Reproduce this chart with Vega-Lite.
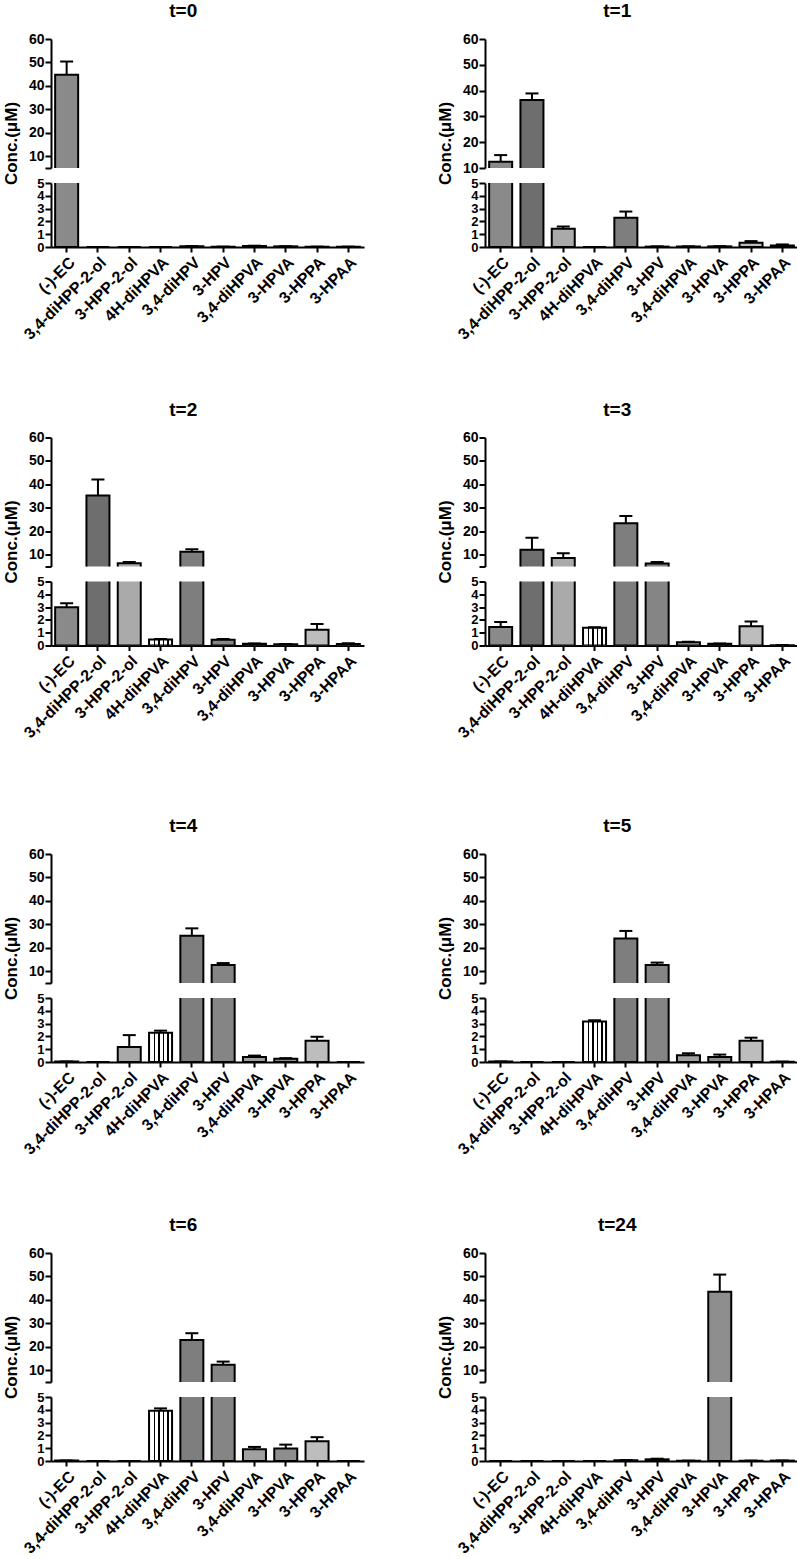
{
"$schema": "https://vega.github.io/schema/vega-lite/v6.json",
"padding": {"left": 2, "top": 2, "right": 0, "bottom": 0},
"background": "white",
"data": {"values": [
{"t":"t=0","c":"(-)-EC","v":44.8,"hi":50.4},
{"t":"t=0","c":"3,4-diHPP-2-ol","v":0,"hi":0},
{"t":"t=0","c":"3-HPP-2-ol","v":0,"hi":0},
{"t":"t=0","c":"4H-diHPVA","v":0,"hi":0},
{"t":"t=0","c":"3,4-diHPV","v":0.05,"hi":0.07},
{"t":"t=0","c":"3-HPV","v":0.02,"hi":0.03},
{"t":"t=0","c":"3,4-diHPVA","v":0.08,"hi":0.1},
{"t":"t=0","c":"3-HPVA","v":0.05,"hi":0.06},
{"t":"t=0","c":"3-HPPA","v":0.02,"hi":0.03},
{"t":"t=0","c":"3-HPAA","v":0.02,"hi":0.03},
{"t":"t=1","c":"(-)-EC","v":12.4,"hi":15.0},
{"t":"t=1","c":"3,4-diHPP-2-ol","v":36.4,"hi":38.9},
{"t":"t=1","c":"3-HPP-2-ol","v":1.43,"hi":1.6},
{"t":"t=1","c":"4H-diHPVA","v":0,"hi":0},
{"t":"t=1","c":"3,4-diHPV","v":2.28,"hi":2.77},
{"t":"t=1","c":"3-HPV","v":0.03,"hi":0.05},
{"t":"t=1","c":"3,4-diHPVA","v":0.03,"hi":0.05},
{"t":"t=1","c":"3-HPVA","v":0.05,"hi":0.06},
{"t":"t=1","c":"3-HPPA","v":0.34,"hi":0.46},
{"t":"t=1","c":"3-HPAA","v":0.12,"hi":0.2},
{"t":"t=2","c":"(-)-EC","v":2.98,"hi":3.31},
{"t":"t=2","c":"3,4-diHPP-2-ol","v":35.3,"hi":42.1},
{"t":"t=2","c":"3-HPP-2-ol","v":6.4,"hi":6.9},
{"t":"t=2","c":"4H-diHPVA","v":0.47,"hi":0.5},
{"t":"t=2","c":"3,4-diHPV","v":11.3,"hi":12.4},
{"t":"t=2","c":"3-HPV","v":0.44,"hi":0.5},
{"t":"t=2","c":"3,4-diHPVA","v":0.13,"hi":0.15},
{"t":"t=2","c":"3-HPVA","v":0.1,"hi":0.12},
{"t":"t=2","c":"3-HPPA","v":1.24,"hi":1.68},
{"t":"t=2","c":"3-HPAA","v":0.12,"hi":0.18},
{"t":"t=3","c":"(-)-EC","v":1.44,"hi":1.83},
{"t":"t=3","c":"3,4-diHPP-2-ol","v":12.1,"hi":17.3},
{"t":"t=3","c":"3-HPP-2-ol","v":8.6,"hi":10.7},
{"t":"t=3","c":"4H-diHPVA","v":1.38,"hi":1.42},
{"t":"t=3","c":"3,4-diHPV","v":23.4,"hi":26.5},
{"t":"t=3","c":"3-HPV","v":6.3,"hi":6.9},
{"t":"t=3","c":"3,4-diHPVA","v":0.25,"hi":0.3},
{"t":"t=3","c":"3-HPVA","v":0.13,"hi":0.15},
{"t":"t=3","c":"3-HPPA","v":1.51,"hi":1.88},
{"t":"t=3","c":"3-HPAA","v":0.02,"hi":0.03},
{"t":"t=4","c":"(-)-EC","v":0.03,"hi":0.04},
{"t":"t=4","c":"3,4-diHPP-2-ol","v":0,"hi":0},
{"t":"t=4","c":"3-HPP-2-ol","v":1.18,"hi":2.1},
{"t":"t=4","c":"4H-diHPVA","v":2.29,"hi":2.45},
{"t":"t=4","c":"3,4-diHPV","v":25.1,"hi":28.3},
{"t":"t=4","c":"3-HPV","v":12.7,"hi":13.5},
{"t":"t=4","c":"3,4-diHPVA","v":0.39,"hi":0.5},
{"t":"t=4","c":"3-HPVA","v":0.26,"hi":0.3},
{"t":"t=4","c":"3-HPPA","v":1.66,"hi":1.97},
{"t":"t=4","c":"3-HPAA","v":0,"hi":0},
{"t":"t=5","c":"(-)-EC","v":0.03,"hi":0.04},
{"t":"t=5","c":"3,4-diHPP-2-ol","v":0,"hi":0},
{"t":"t=5","c":"3-HPP-2-ol","v":0,"hi":0},
{"t":"t=5","c":"4H-diHPVA","v":3.16,"hi":3.26},
{"t":"t=5","c":"3,4-diHPV","v":24.0,"hi":27.2},
{"t":"t=5","c":"3-HPV","v":12.7,"hi":13.7},
{"t":"t=5","c":"3,4-diHPVA","v":0.53,"hi":0.68},
{"t":"t=5","c":"3-HPVA","v":0.39,"hi":0.58},
{"t":"t=5","c":"3-HPPA","v":1.66,"hi":1.9},
{"t":"t=5","c":"3-HPAA","v":0.02,"hi":0.03},
{"t":"t=6","c":"(-)-EC","v":0.03,"hi":0.04},
{"t":"t=6","c":"3,4-diHPP-2-ol","v":0,"hi":0},
{"t":"t=6","c":"3-HPP-2-ol","v":0,"hi":0},
{"t":"t=6","c":"4H-diHPVA","v":3.93,"hi":4.11},
{"t":"t=6","c":"3,4-diHPV","v":22.9,"hi":25.8},
{"t":"t=6","c":"3-HPV","v":12.4,"hi":13.7},
{"t":"t=6","c":"3,4-diHPVA","v":0.92,"hi":1.1},
{"t":"t=6","c":"3-HPVA","v":0.97,"hi":1.28},
{"t":"t=6","c":"3-HPPA","v":1.54,"hi":1.86},
{"t":"t=6","c":"3-HPAA","v":0,"hi":0},
{"t":"t=24","c":"(-)-EC","v":0,"hi":0},
{"t":"t=24","c":"3,4-diHPP-2-ol","v":0,"hi":0},
{"t":"t=24","c":"3-HPP-2-ol","v":0,"hi":0},
{"t":"t=24","c":"4H-diHPVA","v":0,"hi":0},
{"t":"t=24","c":"3,4-diHPV","v":0.05,"hi":0.07},
{"t":"t=24","c":"3-HPV","v":0.13,"hi":0.18},
{"t":"t=24","c":"3,4-diHPVA","v":0.02,"hi":0.03},
{"t":"t=24","c":"3-HPVA","v":43.5,"hi":50.8},
{"t":"t=24","c":"3-HPPA","v":0.02,"hi":0.03},
{"t":"t=24","c":"3-HPAA","v":0.03,"hi":0.04}
]},
"config": {
  "font": "Liberation Sans",
  "view": {"stroke": null},
  "title": {"font": "Liberation Sans", "fontSize": 19, "fontWeight": "bold", "color": "black", "anchor": "middle", "offset": 11},
  "axis": {"domainColor": "black", "domainWidth": 2, "tickColor": "black", "tickWidth": 2, "tickSize": 6, "labelFont": "Liberation Sans", "labelFontWeight": "bold", "labelFontSize": 14, "labelColor": "black", "labelPadding": 1, "labelOverlap": false, "labelFlush": false, "titleFont": "Liberation Sans", "titleFontWeight": "bold", "titleFontSize": 17, "titleColor": "black", "titlePadding": 8, "grid": false},
  "axisX": {"labelAngle": -45, "tickSize": 5, "labelPadding": 2, "labelFontSize": 16}
},
"spacing": 76,
"vconcat": [
{"spacing": 57.5, "vconcat": [
{"spacing": 72, "hconcat": [
{"title": "t=0", "bounds": "flush", "spacing": 15, "vconcat": [
 {"width": 313, "height": 129, "transform": [{"filter": "datum.t === 't=0'"}],
  "encoding": {
   "x": {"field": "c", "type": "nominal", "scale": {"domain": ["(-)-EC","3,4-diHPP-2-ol","3-HPP-2-ol","4H-diHPVA","3,4-diHPV","3-HPV","3,4-diHPVA","3-HPVA","3-HPPA","3-HPAA"], "paddingInner": 0.265, "paddingOuter": 0.1325}, "axis": null},
   "y": {"field": "v", "type": "quantitative", "scale": {"domain": [5, 60], "nice": false, "zero": false}, "axis": {"title": "Conc.(μM)", "titleY": 104, "values": [5,10,20,30,40,50,60], "labelExpr": "datum.value == 5 ? '' : datum.label"}}
  },
  "layer": [
   {"mark": {"type": "bar", "clip": true, "stroke": "black", "strokeWidth": 2}, "encoding": {"y2": {"datum": 0}, "fill": {"field": "c", "type": "nominal", "legend": null, "scale": {"domain": ["(-)-EC","3,4-diHPP-2-ol","3-HPP-2-ol","4H-diHPVA","3,4-diHPV","3-HPV","3,4-diHPVA","3-HPVA","3-HPPA","3-HPAA"], "range": ["#8a8a8a","#6e6e6e","#aaaaaa","#ffffff","#7e7e7e","#858585","#a0a0a0","#8e8e8e","#bdbdbd","#bbbbbb"]}, "condition": {"test": "datum.c === '4H-diHPVA'", "value": {"gradient": "linear", "x1": 0, "y1": 0, "x2": 1, "y2": 0, "stops": [{"offset": 0, "color": "white"}, {"offset": 0.2, "color": "white"}, {"offset": 0.2, "color": "black"}, {"offset": 0.26, "color": "black"}, {"offset": 0.26, "color": "white"}, {"offset": 0.4, "color": "white"}, {"offset": 0.4, "color": "black"}, {"offset": 0.46, "color": "black"}, {"offset": 0.46, "color": "white"}, {"offset": 0.6, "color": "white"}, {"offset": 0.6, "color": "black"}, {"offset": 0.66, "color": "black"}, {"offset": 0.66, "color": "white"}, {"offset": 0.8, "color": "white"}, {"offset": 0.8, "color": "black"}, {"offset": 0.86, "color": "black"}, {"offset": 0.86, "color": "white"}, {"offset": 1, "color": "white"}]}}}}},
   {"mark": {"type": "rule", "clip": true, "color": "black", "strokeWidth": 2}, "encoding": {"y2": {"field": "hi"}}},
   {"mark": {"type": "tick", "clip": true, "color": "black", "size": 13, "thickness": 2, "opacity": 1}, "encoding": {"y": {"field": "hi", "type": "quantitative", "scale": {"domain": [5, 60], "nice": false, "zero": false}, "axis": {"title": "Conc.(μM)", "titleY": 104, "values": [5,10,20,30,40,50,60], "labelExpr": "datum.value == 5 ? '' : datum.label"}}}}
  ]},
 {"width": 313, "height": 64, "transform": [{"filter": "datum.t === 't=0'"}],
  "encoding": {
   "x": {"field": "c", "type": "nominal", "scale": {"domain": ["(-)-EC","3,4-diHPP-2-ol","3-HPP-2-ol","4H-diHPVA","3,4-diHPV","3-HPV","3,4-diHPVA","3-HPVA","3-HPPA","3-HPAA"], "paddingInner": 0.265, "paddingOuter": 0.1325}, "axis": {"title": null}},
   "y": {"field": "v", "type": "quantitative", "scale": {"domain": [0, 5], "nice": false}, "axis": {"title": null, "values": [0,1,2,3,4,5], "labelFontSize": 13}}
  },
  "layer": [
   {"mark": {"type": "bar", "clip": true, "stroke": "black", "strokeWidth": 2}, "encoding": {"y2": {"datum": 0}, "fill": {"field": "c", "type": "nominal", "legend": null, "scale": {"domain": ["(-)-EC","3,4-diHPP-2-ol","3-HPP-2-ol","4H-diHPVA","3,4-diHPV","3-HPV","3,4-diHPVA","3-HPVA","3-HPPA","3-HPAA"], "range": ["#8a8a8a","#6e6e6e","#aaaaaa","#ffffff","#7e7e7e","#858585","#a0a0a0","#8e8e8e","#bdbdbd","#bbbbbb"]}, "condition": {"test": "datum.c === '4H-diHPVA'", "value": {"gradient": "linear", "x1": 0, "y1": 0, "x2": 1, "y2": 0, "stops": [{"offset": 0, "color": "white"}, {"offset": 0.2, "color": "white"}, {"offset": 0.2, "color": "black"}, {"offset": 0.26, "color": "black"}, {"offset": 0.26, "color": "white"}, {"offset": 0.4, "color": "white"}, {"offset": 0.4, "color": "black"}, {"offset": 0.46, "color": "black"}, {"offset": 0.46, "color": "white"}, {"offset": 0.6, "color": "white"}, {"offset": 0.6, "color": "black"}, {"offset": 0.66, "color": "black"}, {"offset": 0.66, "color": "white"}, {"offset": 0.8, "color": "white"}, {"offset": 0.8, "color": "black"}, {"offset": 0.86, "color": "black"}, {"offset": 0.86, "color": "white"}, {"offset": 1, "color": "white"}]}}}}},
   {"mark": {"type": "rule", "clip": true, "color": "black", "strokeWidth": 2}, "encoding": {"y2": {"field": "hi"}}},
   {"mark": {"type": "tick", "clip": true, "color": "black", "size": 13, "thickness": 2, "opacity": 1}, "encoding": {"y": {"field": "hi", "type": "quantitative", "scale": {"domain": [0, 5], "nice": false}, "axis": {"title": null, "values": [0,1,2,3,4,5], "labelFontSize": 13}}}}
  ]}
]},
{"title": "t=1", "bounds": "flush", "spacing": 15, "vconcat": [
 {"width": 313, "height": 129, "transform": [{"filter": "datum.t === 't=1'"}],
  "encoding": {
   "x": {"field": "c", "type": "nominal", "scale": {"domain": ["(-)-EC","3,4-diHPP-2-ol","3-HPP-2-ol","4H-diHPVA","3,4-diHPV","3-HPV","3,4-diHPVA","3-HPVA","3-HPPA","3-HPAA"], "paddingInner": 0.265, "paddingOuter": 0.1325}, "axis": null},
   "y": {"field": "v", "type": "quantitative", "scale": {"domain": [10, 60], "nice": false, "zero": false}, "axis": {"title": "Conc.(μM)", "titleY": 104, "values": [10,20,30,40,50,60]}}
  },
  "layer": [
   {"mark": {"type": "bar", "clip": true, "stroke": "black", "strokeWidth": 2}, "encoding": {"y2": {"datum": 0}, "fill": {"field": "c", "type": "nominal", "legend": null, "scale": {"domain": ["(-)-EC","3,4-diHPP-2-ol","3-HPP-2-ol","4H-diHPVA","3,4-diHPV","3-HPV","3,4-diHPVA","3-HPVA","3-HPPA","3-HPAA"], "range": ["#8a8a8a","#6e6e6e","#aaaaaa","#ffffff","#7e7e7e","#858585","#a0a0a0","#8e8e8e","#bdbdbd","#bbbbbb"]}, "condition": {"test": "datum.c === '4H-diHPVA'", "value": {"gradient": "linear", "x1": 0, "y1": 0, "x2": 1, "y2": 0, "stops": [{"offset": 0, "color": "white"}, {"offset": 0.2, "color": "white"}, {"offset": 0.2, "color": "black"}, {"offset": 0.26, "color": "black"}, {"offset": 0.26, "color": "white"}, {"offset": 0.4, "color": "white"}, {"offset": 0.4, "color": "black"}, {"offset": 0.46, "color": "black"}, {"offset": 0.46, "color": "white"}, {"offset": 0.6, "color": "white"}, {"offset": 0.6, "color": "black"}, {"offset": 0.66, "color": "black"}, {"offset": 0.66, "color": "white"}, {"offset": 0.8, "color": "white"}, {"offset": 0.8, "color": "black"}, {"offset": 0.86, "color": "black"}, {"offset": 0.86, "color": "white"}, {"offset": 1, "color": "white"}]}}}}},
   {"mark": {"type": "rule", "clip": true, "color": "black", "strokeWidth": 2}, "encoding": {"y2": {"field": "hi"}}},
   {"mark": {"type": "tick", "clip": true, "color": "black", "size": 13, "thickness": 2, "opacity": 1}, "encoding": {"y": {"field": "hi", "type": "quantitative", "scale": {"domain": [10, 60], "nice": false, "zero": false}, "axis": {"title": "Conc.(μM)", "titleY": 104, "values": [10,20,30,40,50,60]}}}}
  ]},
 {"width": 313, "height": 64, "transform": [{"filter": "datum.t === 't=1'"}],
  "encoding": {
   "x": {"field": "c", "type": "nominal", "scale": {"domain": ["(-)-EC","3,4-diHPP-2-ol","3-HPP-2-ol","4H-diHPVA","3,4-diHPV","3-HPV","3,4-diHPVA","3-HPVA","3-HPPA","3-HPAA"], "paddingInner": 0.265, "paddingOuter": 0.1325}, "axis": {"title": null}},
   "y": {"field": "v", "type": "quantitative", "scale": {"domain": [0, 5], "nice": false}, "axis": {"title": null, "values": [0,1,2,3,4,5], "labelFontSize": 13}}
  },
  "layer": [
   {"mark": {"type": "bar", "clip": true, "stroke": "black", "strokeWidth": 2}, "encoding": {"y2": {"datum": 0}, "fill": {"field": "c", "type": "nominal", "legend": null, "scale": {"domain": ["(-)-EC","3,4-diHPP-2-ol","3-HPP-2-ol","4H-diHPVA","3,4-diHPV","3-HPV","3,4-diHPVA","3-HPVA","3-HPPA","3-HPAA"], "range": ["#8a8a8a","#6e6e6e","#aaaaaa","#ffffff","#7e7e7e","#858585","#a0a0a0","#8e8e8e","#bdbdbd","#bbbbbb"]}, "condition": {"test": "datum.c === '4H-diHPVA'", "value": {"gradient": "linear", "x1": 0, "y1": 0, "x2": 1, "y2": 0, "stops": [{"offset": 0, "color": "white"}, {"offset": 0.2, "color": "white"}, {"offset": 0.2, "color": "black"}, {"offset": 0.26, "color": "black"}, {"offset": 0.26, "color": "white"}, {"offset": 0.4, "color": "white"}, {"offset": 0.4, "color": "black"}, {"offset": 0.46, "color": "black"}, {"offset": 0.46, "color": "white"}, {"offset": 0.6, "color": "white"}, {"offset": 0.6, "color": "black"}, {"offset": 0.66, "color": "black"}, {"offset": 0.66, "color": "white"}, {"offset": 0.8, "color": "white"}, {"offset": 0.8, "color": "black"}, {"offset": 0.86, "color": "black"}, {"offset": 0.86, "color": "white"}, {"offset": 1, "color": "white"}]}}}}},
   {"mark": {"type": "rule", "clip": true, "color": "black", "strokeWidth": 2}, "encoding": {"y2": {"field": "hi"}}},
   {"mark": {"type": "tick", "clip": true, "color": "black", "size": 13, "thickness": 2, "opacity": 1}, "encoding": {"y": {"field": "hi", "type": "quantitative", "scale": {"domain": [0, 5], "nice": false}, "axis": {"title": null, "values": [0,1,2,3,4,5], "labelFontSize": 13}}}}
  ]}
]}
]},
{"spacing": 72, "hconcat": [
{"title": "t=2", "bounds": "flush", "spacing": 15, "vconcat": [
 {"width": 313, "height": 129, "transform": [{"filter": "datum.t === 't=2'"}],
  "encoding": {
   "x": {"field": "c", "type": "nominal", "scale": {"domain": ["(-)-EC","3,4-diHPP-2-ol","3-HPP-2-ol","4H-diHPVA","3,4-diHPV","3-HPV","3,4-diHPVA","3-HPVA","3-HPPA","3-HPAA"], "paddingInner": 0.265, "paddingOuter": 0.1325}, "axis": null},
   "y": {"field": "v", "type": "quantitative", "scale": {"domain": [5, 60], "nice": false, "zero": false}, "axis": {"title": "Conc.(μM)", "titleY": 104, "values": [5,10,20,30,40,50,60], "labelExpr": "datum.value == 5 ? '' : datum.label"}}
  },
  "layer": [
   {"mark": {"type": "bar", "clip": true, "stroke": "black", "strokeWidth": 2}, "encoding": {"y2": {"datum": 0}, "fill": {"field": "c", "type": "nominal", "legend": null, "scale": {"domain": ["(-)-EC","3,4-diHPP-2-ol","3-HPP-2-ol","4H-diHPVA","3,4-diHPV","3-HPV","3,4-diHPVA","3-HPVA","3-HPPA","3-HPAA"], "range": ["#8a8a8a","#6e6e6e","#aaaaaa","#ffffff","#7e7e7e","#858585","#a0a0a0","#8e8e8e","#bdbdbd","#bbbbbb"]}, "condition": {"test": "datum.c === '4H-diHPVA'", "value": {"gradient": "linear", "x1": 0, "y1": 0, "x2": 1, "y2": 0, "stops": [{"offset": 0, "color": "white"}, {"offset": 0.2, "color": "white"}, {"offset": 0.2, "color": "black"}, {"offset": 0.26, "color": "black"}, {"offset": 0.26, "color": "white"}, {"offset": 0.4, "color": "white"}, {"offset": 0.4, "color": "black"}, {"offset": 0.46, "color": "black"}, {"offset": 0.46, "color": "white"}, {"offset": 0.6, "color": "white"}, {"offset": 0.6, "color": "black"}, {"offset": 0.66, "color": "black"}, {"offset": 0.66, "color": "white"}, {"offset": 0.8, "color": "white"}, {"offset": 0.8, "color": "black"}, {"offset": 0.86, "color": "black"}, {"offset": 0.86, "color": "white"}, {"offset": 1, "color": "white"}]}}}}},
   {"mark": {"type": "rule", "clip": true, "color": "black", "strokeWidth": 2}, "encoding": {"y2": {"field": "hi"}}},
   {"mark": {"type": "tick", "clip": true, "color": "black", "size": 13, "thickness": 2, "opacity": 1}, "encoding": {"y": {"field": "hi", "type": "quantitative", "scale": {"domain": [5, 60], "nice": false, "zero": false}, "axis": {"title": "Conc.(μM)", "titleY": 104, "values": [5,10,20,30,40,50,60], "labelExpr": "datum.value == 5 ? '' : datum.label"}}}}
  ]},
 {"width": 313, "height": 64, "transform": [{"filter": "datum.t === 't=2'"}],
  "encoding": {
   "x": {"field": "c", "type": "nominal", "scale": {"domain": ["(-)-EC","3,4-diHPP-2-ol","3-HPP-2-ol","4H-diHPVA","3,4-diHPV","3-HPV","3,4-diHPVA","3-HPVA","3-HPPA","3-HPAA"], "paddingInner": 0.265, "paddingOuter": 0.1325}, "axis": {"title": null}},
   "y": {"field": "v", "type": "quantitative", "scale": {"domain": [0, 5], "nice": false}, "axis": {"title": null, "values": [0,1,2,3,4,5], "labelFontSize": 13}}
  },
  "layer": [
   {"mark": {"type": "bar", "clip": true, "stroke": "black", "strokeWidth": 2}, "encoding": {"y2": {"datum": 0}, "fill": {"field": "c", "type": "nominal", "legend": null, "scale": {"domain": ["(-)-EC","3,4-diHPP-2-ol","3-HPP-2-ol","4H-diHPVA","3,4-diHPV","3-HPV","3,4-diHPVA","3-HPVA","3-HPPA","3-HPAA"], "range": ["#8a8a8a","#6e6e6e","#aaaaaa","#ffffff","#7e7e7e","#858585","#a0a0a0","#8e8e8e","#bdbdbd","#bbbbbb"]}, "condition": {"test": "datum.c === '4H-diHPVA'", "value": {"gradient": "linear", "x1": 0, "y1": 0, "x2": 1, "y2": 0, "stops": [{"offset": 0, "color": "white"}, {"offset": 0.2, "color": "white"}, {"offset": 0.2, "color": "black"}, {"offset": 0.26, "color": "black"}, {"offset": 0.26, "color": "white"}, {"offset": 0.4, "color": "white"}, {"offset": 0.4, "color": "black"}, {"offset": 0.46, "color": "black"}, {"offset": 0.46, "color": "white"}, {"offset": 0.6, "color": "white"}, {"offset": 0.6, "color": "black"}, {"offset": 0.66, "color": "black"}, {"offset": 0.66, "color": "white"}, {"offset": 0.8, "color": "white"}, {"offset": 0.8, "color": "black"}, {"offset": 0.86, "color": "black"}, {"offset": 0.86, "color": "white"}, {"offset": 1, "color": "white"}]}}}}},
   {"mark": {"type": "rule", "clip": true, "color": "black", "strokeWidth": 2}, "encoding": {"y2": {"field": "hi"}}},
   {"mark": {"type": "tick", "clip": true, "color": "black", "size": 13, "thickness": 2, "opacity": 1}, "encoding": {"y": {"field": "hi", "type": "quantitative", "scale": {"domain": [0, 5], "nice": false}, "axis": {"title": null, "values": [0,1,2,3,4,5], "labelFontSize": 13}}}}
  ]}
]},
{"title": "t=3", "bounds": "flush", "spacing": 15, "vconcat": [
 {"width": 313, "height": 129, "transform": [{"filter": "datum.t === 't=3'"}],
  "encoding": {
   "x": {"field": "c", "type": "nominal", "scale": {"domain": ["(-)-EC","3,4-diHPP-2-ol","3-HPP-2-ol","4H-diHPVA","3,4-diHPV","3-HPV","3,4-diHPVA","3-HPVA","3-HPPA","3-HPAA"], "paddingInner": 0.265, "paddingOuter": 0.1325}, "axis": null},
   "y": {"field": "v", "type": "quantitative", "scale": {"domain": [5, 60], "nice": false, "zero": false}, "axis": {"title": "Conc.(μM)", "titleY": 104, "values": [5,10,20,30,40,50,60], "labelExpr": "datum.value == 5 ? '' : datum.label"}}
  },
  "layer": [
   {"mark": {"type": "bar", "clip": true, "stroke": "black", "strokeWidth": 2}, "encoding": {"y2": {"datum": 0}, "fill": {"field": "c", "type": "nominal", "legend": null, "scale": {"domain": ["(-)-EC","3,4-diHPP-2-ol","3-HPP-2-ol","4H-diHPVA","3,4-diHPV","3-HPV","3,4-diHPVA","3-HPVA","3-HPPA","3-HPAA"], "range": ["#8a8a8a","#6e6e6e","#aaaaaa","#ffffff","#7e7e7e","#858585","#a0a0a0","#8e8e8e","#bdbdbd","#bbbbbb"]}, "condition": {"test": "datum.c === '4H-diHPVA'", "value": {"gradient": "linear", "x1": 0, "y1": 0, "x2": 1, "y2": 0, "stops": [{"offset": 0, "color": "white"}, {"offset": 0.2, "color": "white"}, {"offset": 0.2, "color": "black"}, {"offset": 0.26, "color": "black"}, {"offset": 0.26, "color": "white"}, {"offset": 0.4, "color": "white"}, {"offset": 0.4, "color": "black"}, {"offset": 0.46, "color": "black"}, {"offset": 0.46, "color": "white"}, {"offset": 0.6, "color": "white"}, {"offset": 0.6, "color": "black"}, {"offset": 0.66, "color": "black"}, {"offset": 0.66, "color": "white"}, {"offset": 0.8, "color": "white"}, {"offset": 0.8, "color": "black"}, {"offset": 0.86, "color": "black"}, {"offset": 0.86, "color": "white"}, {"offset": 1, "color": "white"}]}}}}},
   {"mark": {"type": "rule", "clip": true, "color": "black", "strokeWidth": 2}, "encoding": {"y2": {"field": "hi"}}},
   {"mark": {"type": "tick", "clip": true, "color": "black", "size": 13, "thickness": 2, "opacity": 1}, "encoding": {"y": {"field": "hi", "type": "quantitative", "scale": {"domain": [5, 60], "nice": false, "zero": false}, "axis": {"title": "Conc.(μM)", "titleY": 104, "values": [5,10,20,30,40,50,60], "labelExpr": "datum.value == 5 ? '' : datum.label"}}}}
  ]},
 {"width": 313, "height": 64, "transform": [{"filter": "datum.t === 't=3'"}],
  "encoding": {
   "x": {"field": "c", "type": "nominal", "scale": {"domain": ["(-)-EC","3,4-diHPP-2-ol","3-HPP-2-ol","4H-diHPVA","3,4-diHPV","3-HPV","3,4-diHPVA","3-HPVA","3-HPPA","3-HPAA"], "paddingInner": 0.265, "paddingOuter": 0.1325}, "axis": {"title": null}},
   "y": {"field": "v", "type": "quantitative", "scale": {"domain": [0, 5], "nice": false}, "axis": {"title": null, "values": [0,1,2,3,4,5], "labelFontSize": 13}}
  },
  "layer": [
   {"mark": {"type": "bar", "clip": true, "stroke": "black", "strokeWidth": 2}, "encoding": {"y2": {"datum": 0}, "fill": {"field": "c", "type": "nominal", "legend": null, "scale": {"domain": ["(-)-EC","3,4-diHPP-2-ol","3-HPP-2-ol","4H-diHPVA","3,4-diHPV","3-HPV","3,4-diHPVA","3-HPVA","3-HPPA","3-HPAA"], "range": ["#8a8a8a","#6e6e6e","#aaaaaa","#ffffff","#7e7e7e","#858585","#a0a0a0","#8e8e8e","#bdbdbd","#bbbbbb"]}, "condition": {"test": "datum.c === '4H-diHPVA'", "value": {"gradient": "linear", "x1": 0, "y1": 0, "x2": 1, "y2": 0, "stops": [{"offset": 0, "color": "white"}, {"offset": 0.2, "color": "white"}, {"offset": 0.2, "color": "black"}, {"offset": 0.26, "color": "black"}, {"offset": 0.26, "color": "white"}, {"offset": 0.4, "color": "white"}, {"offset": 0.4, "color": "black"}, {"offset": 0.46, "color": "black"}, {"offset": 0.46, "color": "white"}, {"offset": 0.6, "color": "white"}, {"offset": 0.6, "color": "black"}, {"offset": 0.66, "color": "black"}, {"offset": 0.66, "color": "white"}, {"offset": 0.8, "color": "white"}, {"offset": 0.8, "color": "black"}, {"offset": 0.86, "color": "black"}, {"offset": 0.86, "color": "white"}, {"offset": 1, "color": "white"}]}}}}},
   {"mark": {"type": "rule", "clip": true, "color": "black", "strokeWidth": 2}, "encoding": {"y2": {"field": "hi"}}},
   {"mark": {"type": "tick", "clip": true, "color": "black", "size": 13, "thickness": 2, "opacity": 1}, "encoding": {"y": {"field": "hi", "type": "quantitative", "scale": {"domain": [0, 5], "nice": false}, "axis": {"title": null, "values": [0,1,2,3,4,5], "labelFontSize": 13}}}}
  ]}
]}
]}
]},
{"spacing": 58, "vconcat": [
{"spacing": 72, "hconcat": [
{"title": "t=4", "bounds": "flush", "spacing": 15, "vconcat": [
 {"width": 313, "height": 129, "transform": [{"filter": "datum.t === 't=4'"}],
  "encoding": {
   "x": {"field": "c", "type": "nominal", "scale": {"domain": ["(-)-EC","3,4-diHPP-2-ol","3-HPP-2-ol","4H-diHPVA","3,4-diHPV","3-HPV","3,4-diHPVA","3-HPVA","3-HPPA","3-HPAA"], "paddingInner": 0.265, "paddingOuter": 0.1325}, "axis": null},
   "y": {"field": "v", "type": "quantitative", "scale": {"domain": [5, 60], "nice": false, "zero": false}, "axis": {"title": "Conc.(μM)", "titleY": 104, "values": [5,10,20,30,40,50,60], "labelExpr": "datum.value == 5 ? '' : datum.label"}}
  },
  "layer": [
   {"mark": {"type": "bar", "clip": true, "stroke": "black", "strokeWidth": 2}, "encoding": {"y2": {"datum": 0}, "fill": {"field": "c", "type": "nominal", "legend": null, "scale": {"domain": ["(-)-EC","3,4-diHPP-2-ol","3-HPP-2-ol","4H-diHPVA","3,4-diHPV","3-HPV","3,4-diHPVA","3-HPVA","3-HPPA","3-HPAA"], "range": ["#8a8a8a","#6e6e6e","#aaaaaa","#ffffff","#7e7e7e","#858585","#a0a0a0","#8e8e8e","#bdbdbd","#bbbbbb"]}, "condition": {"test": "datum.c === '4H-diHPVA'", "value": {"gradient": "linear", "x1": 0, "y1": 0, "x2": 1, "y2": 0, "stops": [{"offset": 0, "color": "white"}, {"offset": 0.2, "color": "white"}, {"offset": 0.2, "color": "black"}, {"offset": 0.26, "color": "black"}, {"offset": 0.26, "color": "white"}, {"offset": 0.4, "color": "white"}, {"offset": 0.4, "color": "black"}, {"offset": 0.46, "color": "black"}, {"offset": 0.46, "color": "white"}, {"offset": 0.6, "color": "white"}, {"offset": 0.6, "color": "black"}, {"offset": 0.66, "color": "black"}, {"offset": 0.66, "color": "white"}, {"offset": 0.8, "color": "white"}, {"offset": 0.8, "color": "black"}, {"offset": 0.86, "color": "black"}, {"offset": 0.86, "color": "white"}, {"offset": 1, "color": "white"}]}}}}},
   {"mark": {"type": "rule", "clip": true, "color": "black", "strokeWidth": 2}, "encoding": {"y2": {"field": "hi"}}},
   {"mark": {"type": "tick", "clip": true, "color": "black", "size": 13, "thickness": 2, "opacity": 1}, "encoding": {"y": {"field": "hi", "type": "quantitative", "scale": {"domain": [5, 60], "nice": false, "zero": false}, "axis": {"title": "Conc.(μM)", "titleY": 104, "values": [5,10,20,30,40,50,60], "labelExpr": "datum.value == 5 ? '' : datum.label"}}}}
  ]},
 {"width": 313, "height": 64, "transform": [{"filter": "datum.t === 't=4'"}],
  "encoding": {
   "x": {"field": "c", "type": "nominal", "scale": {"domain": ["(-)-EC","3,4-diHPP-2-ol","3-HPP-2-ol","4H-diHPVA","3,4-diHPV","3-HPV","3,4-diHPVA","3-HPVA","3-HPPA","3-HPAA"], "paddingInner": 0.265, "paddingOuter": 0.1325}, "axis": {"title": null}},
   "y": {"field": "v", "type": "quantitative", "scale": {"domain": [0, 5], "nice": false}, "axis": {"title": null, "values": [0,1,2,3,4,5], "labelFontSize": 13}}
  },
  "layer": [
   {"mark": {"type": "bar", "clip": true, "stroke": "black", "strokeWidth": 2}, "encoding": {"y2": {"datum": 0}, "fill": {"field": "c", "type": "nominal", "legend": null, "scale": {"domain": ["(-)-EC","3,4-diHPP-2-ol","3-HPP-2-ol","4H-diHPVA","3,4-diHPV","3-HPV","3,4-diHPVA","3-HPVA","3-HPPA","3-HPAA"], "range": ["#8a8a8a","#6e6e6e","#aaaaaa","#ffffff","#7e7e7e","#858585","#a0a0a0","#8e8e8e","#bdbdbd","#bbbbbb"]}, "condition": {"test": "datum.c === '4H-diHPVA'", "value": {"gradient": "linear", "x1": 0, "y1": 0, "x2": 1, "y2": 0, "stops": [{"offset": 0, "color": "white"}, {"offset": 0.2, "color": "white"}, {"offset": 0.2, "color": "black"}, {"offset": 0.26, "color": "black"}, {"offset": 0.26, "color": "white"}, {"offset": 0.4, "color": "white"}, {"offset": 0.4, "color": "black"}, {"offset": 0.46, "color": "black"}, {"offset": 0.46, "color": "white"}, {"offset": 0.6, "color": "white"}, {"offset": 0.6, "color": "black"}, {"offset": 0.66, "color": "black"}, {"offset": 0.66, "color": "white"}, {"offset": 0.8, "color": "white"}, {"offset": 0.8, "color": "black"}, {"offset": 0.86, "color": "black"}, {"offset": 0.86, "color": "white"}, {"offset": 1, "color": "white"}]}}}}},
   {"mark": {"type": "rule", "clip": true, "color": "black", "strokeWidth": 2}, "encoding": {"y2": {"field": "hi"}}},
   {"mark": {"type": "tick", "clip": true, "color": "black", "size": 13, "thickness": 2, "opacity": 1}, "encoding": {"y": {"field": "hi", "type": "quantitative", "scale": {"domain": [0, 5], "nice": false}, "axis": {"title": null, "values": [0,1,2,3,4,5], "labelFontSize": 13}}}}
  ]}
]},
{"title": "t=5", "bounds": "flush", "spacing": 15, "vconcat": [
 {"width": 313, "height": 129, "transform": [{"filter": "datum.t === 't=5'"}],
  "encoding": {
   "x": {"field": "c", "type": "nominal", "scale": {"domain": ["(-)-EC","3,4-diHPP-2-ol","3-HPP-2-ol","4H-diHPVA","3,4-diHPV","3-HPV","3,4-diHPVA","3-HPVA","3-HPPA","3-HPAA"], "paddingInner": 0.265, "paddingOuter": 0.1325}, "axis": null},
   "y": {"field": "v", "type": "quantitative", "scale": {"domain": [5, 60], "nice": false, "zero": false}, "axis": {"title": "Conc.(μM)", "titleY": 104, "values": [5,10,20,30,40,50,60], "labelExpr": "datum.value == 5 ? '' : datum.label"}}
  },
  "layer": [
   {"mark": {"type": "bar", "clip": true, "stroke": "black", "strokeWidth": 2}, "encoding": {"y2": {"datum": 0}, "fill": {"field": "c", "type": "nominal", "legend": null, "scale": {"domain": ["(-)-EC","3,4-diHPP-2-ol","3-HPP-2-ol","4H-diHPVA","3,4-diHPV","3-HPV","3,4-diHPVA","3-HPVA","3-HPPA","3-HPAA"], "range": ["#8a8a8a","#6e6e6e","#aaaaaa","#ffffff","#7e7e7e","#858585","#a0a0a0","#8e8e8e","#bdbdbd","#bbbbbb"]}, "condition": {"test": "datum.c === '4H-diHPVA'", "value": {"gradient": "linear", "x1": 0, "y1": 0, "x2": 1, "y2": 0, "stops": [{"offset": 0, "color": "white"}, {"offset": 0.2, "color": "white"}, {"offset": 0.2, "color": "black"}, {"offset": 0.26, "color": "black"}, {"offset": 0.26, "color": "white"}, {"offset": 0.4, "color": "white"}, {"offset": 0.4, "color": "black"}, {"offset": 0.46, "color": "black"}, {"offset": 0.46, "color": "white"}, {"offset": 0.6, "color": "white"}, {"offset": 0.6, "color": "black"}, {"offset": 0.66, "color": "black"}, {"offset": 0.66, "color": "white"}, {"offset": 0.8, "color": "white"}, {"offset": 0.8, "color": "black"}, {"offset": 0.86, "color": "black"}, {"offset": 0.86, "color": "white"}, {"offset": 1, "color": "white"}]}}}}},
   {"mark": {"type": "rule", "clip": true, "color": "black", "strokeWidth": 2}, "encoding": {"y2": {"field": "hi"}}},
   {"mark": {"type": "tick", "clip": true, "color": "black", "size": 13, "thickness": 2, "opacity": 1}, "encoding": {"y": {"field": "hi", "type": "quantitative", "scale": {"domain": [5, 60], "nice": false, "zero": false}, "axis": {"title": "Conc.(μM)", "titleY": 104, "values": [5,10,20,30,40,50,60], "labelExpr": "datum.value == 5 ? '' : datum.label"}}}}
  ]},
 {"width": 313, "height": 64, "transform": [{"filter": "datum.t === 't=5'"}],
  "encoding": {
   "x": {"field": "c", "type": "nominal", "scale": {"domain": ["(-)-EC","3,4-diHPP-2-ol","3-HPP-2-ol","4H-diHPVA","3,4-diHPV","3-HPV","3,4-diHPVA","3-HPVA","3-HPPA","3-HPAA"], "paddingInner": 0.265, "paddingOuter": 0.1325}, "axis": {"title": null}},
   "y": {"field": "v", "type": "quantitative", "scale": {"domain": [0, 5], "nice": false}, "axis": {"title": null, "values": [0,1,2,3,4,5], "labelFontSize": 13}}
  },
  "layer": [
   {"mark": {"type": "bar", "clip": true, "stroke": "black", "strokeWidth": 2}, "encoding": {"y2": {"datum": 0}, "fill": {"field": "c", "type": "nominal", "legend": null, "scale": {"domain": ["(-)-EC","3,4-diHPP-2-ol","3-HPP-2-ol","4H-diHPVA","3,4-diHPV","3-HPV","3,4-diHPVA","3-HPVA","3-HPPA","3-HPAA"], "range": ["#8a8a8a","#6e6e6e","#aaaaaa","#ffffff","#7e7e7e","#858585","#a0a0a0","#8e8e8e","#bdbdbd","#bbbbbb"]}, "condition": {"test": "datum.c === '4H-diHPVA'", "value": {"gradient": "linear", "x1": 0, "y1": 0, "x2": 1, "y2": 0, "stops": [{"offset": 0, "color": "white"}, {"offset": 0.2, "color": "white"}, {"offset": 0.2, "color": "black"}, {"offset": 0.26, "color": "black"}, {"offset": 0.26, "color": "white"}, {"offset": 0.4, "color": "white"}, {"offset": 0.4, "color": "black"}, {"offset": 0.46, "color": "black"}, {"offset": 0.46, "color": "white"}, {"offset": 0.6, "color": "white"}, {"offset": 0.6, "color": "black"}, {"offset": 0.66, "color": "black"}, {"offset": 0.66, "color": "white"}, {"offset": 0.8, "color": "white"}, {"offset": 0.8, "color": "black"}, {"offset": 0.86, "color": "black"}, {"offset": 0.86, "color": "white"}, {"offset": 1, "color": "white"}]}}}}},
   {"mark": {"type": "rule", "clip": true, "color": "black", "strokeWidth": 2}, "encoding": {"y2": {"field": "hi"}}},
   {"mark": {"type": "tick", "clip": true, "color": "black", "size": 13, "thickness": 2, "opacity": 1}, "encoding": {"y": {"field": "hi", "type": "quantitative", "scale": {"domain": [0, 5], "nice": false}, "axis": {"title": null, "values": [0,1,2,3,4,5], "labelFontSize": 13}}}}
  ]}
]}
]},
{"spacing": 72, "hconcat": [
{"title": "t=6", "bounds": "flush", "spacing": 15, "vconcat": [
 {"width": 313, "height": 129, "transform": [{"filter": "datum.t === 't=6'"}],
  "encoding": {
   "x": {"field": "c", "type": "nominal", "scale": {"domain": ["(-)-EC","3,4-diHPP-2-ol","3-HPP-2-ol","4H-diHPVA","3,4-diHPV","3-HPV","3,4-diHPVA","3-HPVA","3-HPPA","3-HPAA"], "paddingInner": 0.265, "paddingOuter": 0.1325}, "axis": null},
   "y": {"field": "v", "type": "quantitative", "scale": {"domain": [5, 60], "nice": false, "zero": false}, "axis": {"title": "Conc.(μM)", "titleY": 104, "values": [5,10,20,30,40,50,60], "labelExpr": "datum.value == 5 ? '' : datum.label"}}
  },
  "layer": [
   {"mark": {"type": "bar", "clip": true, "stroke": "black", "strokeWidth": 2}, "encoding": {"y2": {"datum": 0}, "fill": {"field": "c", "type": "nominal", "legend": null, "scale": {"domain": ["(-)-EC","3,4-diHPP-2-ol","3-HPP-2-ol","4H-diHPVA","3,4-diHPV","3-HPV","3,4-diHPVA","3-HPVA","3-HPPA","3-HPAA"], "range": ["#8a8a8a","#6e6e6e","#aaaaaa","#ffffff","#7e7e7e","#858585","#a0a0a0","#8e8e8e","#bdbdbd","#bbbbbb"]}, "condition": {"test": "datum.c === '4H-diHPVA'", "value": {"gradient": "linear", "x1": 0, "y1": 0, "x2": 1, "y2": 0, "stops": [{"offset": 0, "color": "white"}, {"offset": 0.2, "color": "white"}, {"offset": 0.2, "color": "black"}, {"offset": 0.26, "color": "black"}, {"offset": 0.26, "color": "white"}, {"offset": 0.4, "color": "white"}, {"offset": 0.4, "color": "black"}, {"offset": 0.46, "color": "black"}, {"offset": 0.46, "color": "white"}, {"offset": 0.6, "color": "white"}, {"offset": 0.6, "color": "black"}, {"offset": 0.66, "color": "black"}, {"offset": 0.66, "color": "white"}, {"offset": 0.8, "color": "white"}, {"offset": 0.8, "color": "black"}, {"offset": 0.86, "color": "black"}, {"offset": 0.86, "color": "white"}, {"offset": 1, "color": "white"}]}}}}},
   {"mark": {"type": "rule", "clip": true, "color": "black", "strokeWidth": 2}, "encoding": {"y2": {"field": "hi"}}},
   {"mark": {"type": "tick", "clip": true, "color": "black", "size": 13, "thickness": 2, "opacity": 1}, "encoding": {"y": {"field": "hi", "type": "quantitative", "scale": {"domain": [5, 60], "nice": false, "zero": false}, "axis": {"title": "Conc.(μM)", "titleY": 104, "values": [5,10,20,30,40,50,60], "labelExpr": "datum.value == 5 ? '' : datum.label"}}}}
  ]},
 {"width": 313, "height": 64, "transform": [{"filter": "datum.t === 't=6'"}],
  "encoding": {
   "x": {"field": "c", "type": "nominal", "scale": {"domain": ["(-)-EC","3,4-diHPP-2-ol","3-HPP-2-ol","4H-diHPVA","3,4-diHPV","3-HPV","3,4-diHPVA","3-HPVA","3-HPPA","3-HPAA"], "paddingInner": 0.265, "paddingOuter": 0.1325}, "axis": {"title": null}},
   "y": {"field": "v", "type": "quantitative", "scale": {"domain": [0, 5], "nice": false}, "axis": {"title": null, "values": [0,1,2,3,4,5], "labelFontSize": 13}}
  },
  "layer": [
   {"mark": {"type": "bar", "clip": true, "stroke": "black", "strokeWidth": 2}, "encoding": {"y2": {"datum": 0}, "fill": {"field": "c", "type": "nominal", "legend": null, "scale": {"domain": ["(-)-EC","3,4-diHPP-2-ol","3-HPP-2-ol","4H-diHPVA","3,4-diHPV","3-HPV","3,4-diHPVA","3-HPVA","3-HPPA","3-HPAA"], "range": ["#8a8a8a","#6e6e6e","#aaaaaa","#ffffff","#7e7e7e","#858585","#a0a0a0","#8e8e8e","#bdbdbd","#bbbbbb"]}, "condition": {"test": "datum.c === '4H-diHPVA'", "value": {"gradient": "linear", "x1": 0, "y1": 0, "x2": 1, "y2": 0, "stops": [{"offset": 0, "color": "white"}, {"offset": 0.2, "color": "white"}, {"offset": 0.2, "color": "black"}, {"offset": 0.26, "color": "black"}, {"offset": 0.26, "color": "white"}, {"offset": 0.4, "color": "white"}, {"offset": 0.4, "color": "black"}, {"offset": 0.46, "color": "black"}, {"offset": 0.46, "color": "white"}, {"offset": 0.6, "color": "white"}, {"offset": 0.6, "color": "black"}, {"offset": 0.66, "color": "black"}, {"offset": 0.66, "color": "white"}, {"offset": 0.8, "color": "white"}, {"offset": 0.8, "color": "black"}, {"offset": 0.86, "color": "black"}, {"offset": 0.86, "color": "white"}, {"offset": 1, "color": "white"}]}}}}},
   {"mark": {"type": "rule", "clip": true, "color": "black", "strokeWidth": 2}, "encoding": {"y2": {"field": "hi"}}},
   {"mark": {"type": "tick", "clip": true, "color": "black", "size": 13, "thickness": 2, "opacity": 1}, "encoding": {"y": {"field": "hi", "type": "quantitative", "scale": {"domain": [0, 5], "nice": false}, "axis": {"title": null, "values": [0,1,2,3,4,5], "labelFontSize": 13}}}}
  ]}
]},
{"title": "t=24", "bounds": "flush", "spacing": 15, "vconcat": [
 {"width": 313, "height": 129, "transform": [{"filter": "datum.t === 't=24'"}],
  "encoding": {
   "x": {"field": "c", "type": "nominal", "scale": {"domain": ["(-)-EC","3,4-diHPP-2-ol","3-HPP-2-ol","4H-diHPVA","3,4-diHPV","3-HPV","3,4-diHPVA","3-HPVA","3-HPPA","3-HPAA"], "paddingInner": 0.265, "paddingOuter": 0.1325}, "axis": null},
   "y": {"field": "v", "type": "quantitative", "scale": {"domain": [5, 60], "nice": false, "zero": false}, "axis": {"title": "Conc.(μM)", "titleY": 104, "values": [5,10,20,30,40,50,60], "labelExpr": "datum.value == 5 ? '' : datum.label"}}
  },
  "layer": [
   {"mark": {"type": "bar", "clip": true, "stroke": "black", "strokeWidth": 2}, "encoding": {"y2": {"datum": 0}, "fill": {"field": "c", "type": "nominal", "legend": null, "scale": {"domain": ["(-)-EC","3,4-diHPP-2-ol","3-HPP-2-ol","4H-diHPVA","3,4-diHPV","3-HPV","3,4-diHPVA","3-HPVA","3-HPPA","3-HPAA"], "range": ["#8a8a8a","#6e6e6e","#aaaaaa","#ffffff","#7e7e7e","#858585","#a0a0a0","#8e8e8e","#bdbdbd","#bbbbbb"]}, "condition": {"test": "datum.c === '4H-diHPVA'", "value": {"gradient": "linear", "x1": 0, "y1": 0, "x2": 1, "y2": 0, "stops": [{"offset": 0, "color": "white"}, {"offset": 0.2, "color": "white"}, {"offset": 0.2, "color": "black"}, {"offset": 0.26, "color": "black"}, {"offset": 0.26, "color": "white"}, {"offset": 0.4, "color": "white"}, {"offset": 0.4, "color": "black"}, {"offset": 0.46, "color": "black"}, {"offset": 0.46, "color": "white"}, {"offset": 0.6, "color": "white"}, {"offset": 0.6, "color": "black"}, {"offset": 0.66, "color": "black"}, {"offset": 0.66, "color": "white"}, {"offset": 0.8, "color": "white"}, {"offset": 0.8, "color": "black"}, {"offset": 0.86, "color": "black"}, {"offset": 0.86, "color": "white"}, {"offset": 1, "color": "white"}]}}}}},
   {"mark": {"type": "rule", "clip": true, "color": "black", "strokeWidth": 2}, "encoding": {"y2": {"field": "hi"}}},
   {"mark": {"type": "tick", "clip": true, "color": "black", "size": 13, "thickness": 2, "opacity": 1}, "encoding": {"y": {"field": "hi", "type": "quantitative", "scale": {"domain": [5, 60], "nice": false, "zero": false}, "axis": {"title": "Conc.(μM)", "titleY": 104, "values": [5,10,20,30,40,50,60], "labelExpr": "datum.value == 5 ? '' : datum.label"}}}}
  ]},
 {"width": 313, "height": 64, "transform": [{"filter": "datum.t === 't=24'"}],
  "encoding": {
   "x": {"field": "c", "type": "nominal", "scale": {"domain": ["(-)-EC","3,4-diHPP-2-ol","3-HPP-2-ol","4H-diHPVA","3,4-diHPV","3-HPV","3,4-diHPVA","3-HPVA","3-HPPA","3-HPAA"], "paddingInner": 0.265, "paddingOuter": 0.1325}, "axis": {"title": null}},
   "y": {"field": "v", "type": "quantitative", "scale": {"domain": [0, 5], "nice": false}, "axis": {"title": null, "values": [0,1,2,3,4,5], "labelFontSize": 13}}
  },
  "layer": [
   {"mark": {"type": "bar", "clip": true, "stroke": "black", "strokeWidth": 2}, "encoding": {"y2": {"datum": 0}, "fill": {"field": "c", "type": "nominal", "legend": null, "scale": {"domain": ["(-)-EC","3,4-diHPP-2-ol","3-HPP-2-ol","4H-diHPVA","3,4-diHPV","3-HPV","3,4-diHPVA","3-HPVA","3-HPPA","3-HPAA"], "range": ["#8a8a8a","#6e6e6e","#aaaaaa","#ffffff","#7e7e7e","#858585","#a0a0a0","#8e8e8e","#bdbdbd","#bbbbbb"]}, "condition": {"test": "datum.c === '4H-diHPVA'", "value": {"gradient": "linear", "x1": 0, "y1": 0, "x2": 1, "y2": 0, "stops": [{"offset": 0, "color": "white"}, {"offset": 0.2, "color": "white"}, {"offset": 0.2, "color": "black"}, {"offset": 0.26, "color": "black"}, {"offset": 0.26, "color": "white"}, {"offset": 0.4, "color": "white"}, {"offset": 0.4, "color": "black"}, {"offset": 0.46, "color": "black"}, {"offset": 0.46, "color": "white"}, {"offset": 0.6, "color": "white"}, {"offset": 0.6, "color": "black"}, {"offset": 0.66, "color": "black"}, {"offset": 0.66, "color": "white"}, {"offset": 0.8, "color": "white"}, {"offset": 0.8, "color": "black"}, {"offset": 0.86, "color": "black"}, {"offset": 0.86, "color": "white"}, {"offset": 1, "color": "white"}]}}}}},
   {"mark": {"type": "rule", "clip": true, "color": "black", "strokeWidth": 2}, "encoding": {"y2": {"field": "hi"}}},
   {"mark": {"type": "tick", "clip": true, "color": "black", "size": 13, "thickness": 2, "opacity": 1}, "encoding": {"y": {"field": "hi", "type": "quantitative", "scale": {"domain": [0, 5], "nice": false}, "axis": {"title": null, "values": [0,1,2,3,4,5], "labelFontSize": 13}}}}
  ]}
]}
]}
]}
]
}
